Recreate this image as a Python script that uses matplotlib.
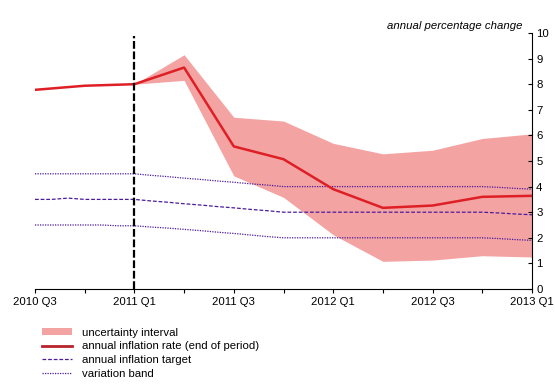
import numpy as np
import matplotlib
matplotlib.use("Agg")
import matplotlib.pyplot as plt
from matplotlib.patches import Patch
from matplotlib.lines import Line2D

plt.rcParams['font.family'] = ['Liberation Sans', 'DejaVu Sans']

quarters = ["2010 Q3", "2010 Q4", "2011 Q1", "2011 Q2", "2011 Q3", "2011 Q4",
            "2012 Q1", "2012 Q2", "2012 Q3", "2012 Q4", "2013 Q1"]
inflation = [7.78, 7.94, 8.0, 8.65, 5.57, 5.07, 3.9, 3.17, 3.26, 3.6, 3.64]

# uncertainty interval from 2011 Q1 onward
upper = [8.0, 9.15, 6.71, 6.56, 5.69, 5.28, 5.42, 5.88, 6.06]
lower = [8.0, 8.15, 4.42, 3.58, 2.12, 1.08, 1.13, 1.3, 1.25]

# monthly inflation target and variation band, 2010 Q3 .. 2013 Q1
target = [3.5, 3.5, 3.55, 3.5, 3.5, 3.5, 3.5,
          3.44, 3.39, 3.33, 3.28, 3.22, 3.17, 3.11, 3.06, 3.0,
          3.0, 3.0, 3.0, 3.0, 3.0, 3.0, 3.0, 3.0, 3.0, 3.0, 3.0, 3.0,
          2.97, 2.93, 2.9]
band_hi = [4.5, 4.5, 4.5, 4.5, 4.5, 4.5, 4.5,
           4.44, 4.39, 4.33, 4.28, 4.22, 4.17, 4.11, 4.06, 4.0,
           4.0, 4.0, 4.0, 4.0, 4.0, 4.0, 4.0, 4.0, 4.0, 4.0, 4.0, 4.0,
           3.97, 3.93, 3.9]
band_lo = [2.5, 2.5, 2.5, 2.5, 2.5, 2.47, 2.47,
           2.42, 2.38, 2.33, 2.28, 2.22, 2.17, 2.11, 2.05, 2.0,
           2.0, 2.0, 2.0, 2.0, 2.0, 2.0, 2.0, 2.0, 2.0, 2.0, 2.0, 2.0,
           1.97, 1.93, 1.9]

x_q = np.arange(len(quarters))
x_f = x_q[2:]
x_m = np.arange(len(target)) / 3.0

pink = "#F4A3A3"
red = "#DE1F26"
purple = "#4B1C9A"

fig = plt.figure(figsize=(5.55, 3.87), dpi=100)
ax = fig.add_axes([35 / 555, 1 - 289 / 387, (532 - 35) / 555, (289 - 33) / 387])

ax.fill_between(x_f, lower, upper, color=pink, lw=0)
ax.plot(x_m, band_hi, color=purple, lw=0.9, ls=(0, (1, 1)))
ax.plot(x_m, band_lo, color=purple, lw=0.9, ls=(0, (1, 1)))
ax.plot(x_m, target, color=purple, lw=0.9, ls=(0, (3, 1.5)))
ax.plot(x_q, inflation, color=red, lw=1.8)
ax.axvline(2, color="black", lw=1.6, ls=(0, (3.5, 1.2)), ymax=0.99)

ax.set_xlim(0, 10)
ax.set_ylim(0, 10)
ax.spines['left'].set_visible(False)
ax.spines['top'].set_visible(False)
ax.yaxis.tick_right()
ax.set_yticks(range(0, 11))
ax.tick_params(axis='y', direction='in', length=3, pad=3, labelsize=8.2)
ax.set_xticks(x_q)
ax.set_xticklabels([q if i % 2 == 0 else "" for i, q in enumerate(quarters)])
ax.tick_params(axis='x', direction='out', length=3, pad=3, labelsize=8.2)

ax.text(0.98, 1.028, "annual percentage change", transform=ax.transAxes,
        ha='right', va='center', style='italic', fontsize=8.2)

handles = [
    Patch(facecolor=pink, edgecolor='none'),
    Line2D([], [], color="#B8222A", lw=2),
    Line2D([], [], color=purple, lw=0.9, ls=(0, (3, 1.5))),
    Line2D([], [], color=purple, lw=0.9, ls=(0, (1, 1))),
]
labels = ["uncertainty interval", "annual inflation rate (end of period)",
          "annual inflation target", "variation band"]
fig.legend(handles, labels, loc='upper left', bbox_to_anchor=(0.066, 0.168),
           frameon=False, fontsize=8.2, handlelength=2.6, handleheight=0.6,
           labelspacing=0.32, handletextpad=0.9, borderpad=0)

fig.savefig("out.png", dpi=100)
